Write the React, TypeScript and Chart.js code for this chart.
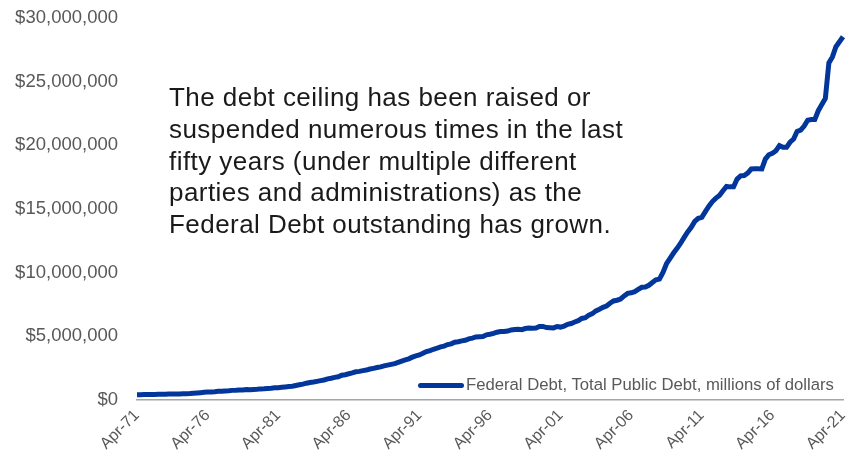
import React, { useEffect, useRef } from "react";
import { Chart, registerables } from "chart.js";

Chart.register(...registerables);

// Quarterly federal debt, millions of dollars, Q2 1971 .. Q2 2021
const debt: number[] = [
  // 1971 (Q2-Q4)
  408000, 414000, 424000,
  // 1972
  427000, 427000, 436000, 449000,
  // 1973
  455000, 458000, 466000, 469000,
  // 1974
  476000, 475000, 485000, 493000,
  // 1975
  508000, 533000, 554000, 577000,
  // 1976
  600000, 620000, 634000, 653000,
  // 1977
  681000, 685000, 709000, 729000,
  // 1978
  756000, 763000, 780000, 789000,
  // 1979
  825000, 812000, 827000, 845000,
  // 1980
  873000, 884000, 908000, 930000,
  // 1981
  964000, 971000, 998000, 1028000,
  // 1982
  1064000, 1080000, 1142000, 1197000,
  // 1983
  1245000, 1319000, 1377000, 1410000,
  // 1984
  1463000, 1518000, 1573000, 1663000,
  // 1985
  1710000, 1775000, 1823000, 1945000,
  // 1986
  1986000, 2060000, 2125000, 2214000,
  // 1987
  2247000, 2310000, 2350000, 2431000,
  // 1988
  2487000, 2547000, 2602000, 2684000,
  // 1989
  2740000, 2799000, 2857000, 2953000,
  // 1990
  3053000, 3143000, 3233000, 3364000,
  // 1991
  3465000, 3538000, 3665000, 3802000,
  // 1992
  3881000, 3984000, 4065000, 4177000,
  // 1993
  4230000, 4352000, 4411000, 4536000,
  // 1994
  4575000, 4645000, 4693000, 4800000,
  // 1995
  4864000, 4951000, 4974000, 4989000,
  // 1996
  5118000, 5161000, 5225000, 5323000,
  // 1997
  5381000, 5376000, 5413000, 5502000,
  // 1998
  5542000, 5548000, 5526000, 5614000,
  // 1999
  5651000, 5638000, 5656000, 5776000,
  // 2000
  5773000, 5685000, 5674000, 5662000,
  // 2001
  5773000, 5727000, 5807000, 5943000,
  // 2002
  6006000, 6126000, 6228000, 6405000,
  // 2003
  6460000, 6670000, 6783000, 6998000,
  // 2004
  7131000, 7274000, 7379000, 7596000,
  // 2005
  7777000, 7836000, 7933000, 8170000,
  // 2006
  8371000, 8420000, 8507000, 8680000,
  // 2007
  8849000, 8867000, 9008000, 9229000,
  // 2008
  9437000, 9492000, 10025000, 10700000,
  // 2009
  11127000, 11545000, 11910000, 12311000,
  // 2010
  12773000, 13201000, 13562000, 14025000,
  // 2011
  14270000, 14343000, 14790000, 15223000,
  // 2012
  15582000, 15856000, 16066000, 16432000,
  // 2013
  16771000, 16738000, 16738000, 17352000,
  // 2014
  17602000, 17632000, 17824000, 18141000,
  // 2015
  18152000, 18152000, 18151000, 18922000,
  // 2016
  19264000, 19381000, 19573000, 19977000,
  // 2017
  19846000, 19845000, 20245000, 20493000,
  // 2018
  21090000, 21195000, 21516000, 21974000,
  // 2019
  22028000, 22023000, 22719000, 23201000,
  // 2020
  23687000, 26477000, 26945000, 27748000,
  // 2021 (Q1-Q2)
  28133000, 28529000,
];

const months = ["Apr", "Jul", "Oct", "Jan"];
const tickLabels = [
  "Apr-71", "Apr-76", "Apr-81", "Apr-86", "Apr-91", "Apr-96",
  "Apr-01", "Apr-06", "Apr-11", "Apr-16", "Apr-21",
];
const yTicks = [0, 5000000, 10000000, 15000000, 20000000, 25000000, 30000000];
const seriesName = "Federal Debt, Total Public Debt, millions of dollars";
const noteLines = [
  "The debt ceiling has been raised or",
  "suspended numerous times in the last",
  "fifty years (under multiple different",
  "parties and administrations) as the",
  "Federal Debt outstanding has grown.",
];

const categories: string[] = debt.map((_, i) => {
  const m = months[i % 4];
  const yy = (m === "Jan" ? 1971 + Math.floor((i + 1) / 4) : 1971 + Math.floor(i / 4)) % 100;
  return `${m}-${String(yy).padStart(2, "0")}`;
});

const FONT = "'Liberation Sans', Arial, sans-serif";
const LINE_COLOR = "#02369a";
const GRAY = "#595959";

export default function App() {
  const ref = useRef<HTMLCanvasElement | null>(null);

  useEffect(() => {
    document.body.style.margin = "0";
    if (!ref.current) return;
    const chart = new Chart(ref.current, {
      type: "line",
      data: {
        labels: categories,
        datasets: [
          {
            label: seriesName,
            data: debt,
            borderColor: LINE_COLOR,
            backgroundColor: LINE_COLOR,
            borderWidth: 5,
            pointRadius: 0,
            tension: 0,
            fill: false,
          },
        ],
      },
      options: {
        responsive: false,
        animation: false,
        layout: { padding: { top: 18, right: 7, left: 0, bottom: 0 } },
        plugins: { legend: { display: false }, tooltip: { enabled: false } },
        scales: {
          x: {
            type: "category",
            offset: false,
            grid: { display: false, drawTicks: false },
            border: { display: true, color: "#a6a6a6", width: 1.5 },
            ticks: {
              autoSkip: false,
              minRotation: 45,
              maxRotation: 45,
              padding: 6,
              color: GRAY,
              font: { family: FONT, size: 16 },
              callback: (_v: any, idx: number) => {
                const lbl = categories[idx];
                return tickLabels.includes(lbl) && idx % 20 === 0 ? lbl : null;
              },
            },
            afterFit: (s: any) => {
              s.height = 63;
              s.paddingLeft = 0;
              s.paddingRight = 0;
            },
          },
          y: {
            min: 0,
            max: 30000000,
            grid: { display: false, drawTicks: false },
            border: { display: false },
            afterBuildTicks: (s: any) => {
              s.ticks = yTicks.map((v) => ({ value: v }));
            },
            ticks: {
              padding: 19,
              color: GRAY,
              font: { family: FONT, size: 18.5 },
              callback: (v: any) => "$" + Number(v).toLocaleString("en-US"),
            },
            afterFit: (s: any) => {
              s.width = 137;
              s.paddingTop = 0;
              s.paddingBottom = 0;
            },
          },
        },
      },
    });
    return () => chart.destroy();
  }, []);

  return (
    <div style={{ position: "relative", width: 850, height: 463, background: "#fff" }}>
      <canvas ref={ref} width={850} height={463} style={{ display: "block" }} />
      <div
        style={{
          position: "absolute",
          left: 169,
          top: 82,
          fontFamily: FONT,
          fontSize: 26,
          letterSpacing: "0.45px",
          lineHeight: "31.8px",
          color: "#1a1a1a",
          whiteSpace: "pre",
        }}
      >
        {noteLines.map((l, i) => (
          <div key={i}>{l}</div>
        ))}
      </div>
      <div
        style={{
          position: "absolute",
          left: 418,
          top: 375,
          height: 20,
          display: "flex",
          alignItems: "center",
          fontFamily: FONT,
          fontSize: 16.7,
          color: GRAY,
          whiteSpace: "nowrap",
        }}
      >
        <span
          style={{
            display: "inline-block",
            width: 46,
            height: 5,
            borderRadius: 3,
            background: LINE_COLOR,
            marginRight: 2,
          }}
        />
        <span>{seriesName}</span>
      </div>
    </div>
  );
}
